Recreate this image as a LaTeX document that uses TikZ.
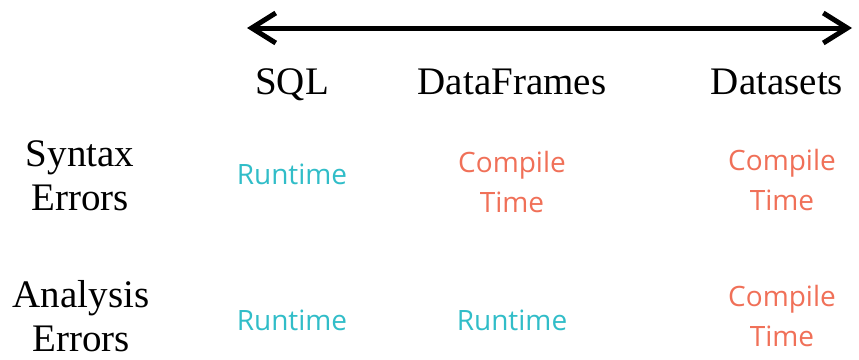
\documentclass[tikz,border=0pt]{standalone}
\usepackage{fontspec}
\setmainfont{Liberation Serif}
\newfontfamily\sansfont{Open Sans}
\usetikzlibrary{arrows.meta}
\definecolor{runcol}{RGB}{49,189,200}
\definecolor{compcol}{RGB}{240,112,88}
\tikzset{
  head/.style={anchor=base, font=\fontsize{39}{46}\selectfont},
  rowlabel/.style={anchor=center, align=center, font=\fontsize{39}{44}\selectfont},
  runtime/.style={anchor=center, align=center, text=runcol, font=\sansfont\fontsize{28}{40}\selectfont},
  compile/.style={anchor=center, align=center, text=compcol, font=\sansfont\fontsize{28}{40}\selectfont},
}
\begin{document}
\begin{tikzpicture}[x=1pt, y=-1pt]
 \begin{scope}
 \useasboundingbox (0,0) rectangle (859,359);
 \coordinate (left) at (247,28);
 \coordinate (right) at (852,28);
 \draw[line width=5pt, {Straight Barb[length=24pt,width=30pt]}-{Straight Barb[length=24pt,width=30pt]}] (left)--(right); % l'axe

\foreach \x/\name in {292/SQL, 512/DataFrames, 777/Datasets}{
    \node [head] (h\name) at (\x,94) {\name};
}

 \node [rowlabel] (syntax) at (80,176) {Syntax\\Errors};
 \node [rowlabel] (analysis) at (81,316) {Analysis\\Errors};

 \node [runtime] (sqlsyn) at (292,174) {Runtime};
 \node [compile] (dfsyn) at (512,182) {Compile\\Time};
 \node [compile] (dssyn) at (782,180) {Compile\\Time};

 \node [runtime] (sqlana) at (292,320) {Runtime};
 \node [runtime] (dfana) at (512,320) {Runtime};
 \node [compile] (dsana) at (782,316) {Compile\\Time};
 \end{scope}
\end{tikzpicture}
\end{document}
